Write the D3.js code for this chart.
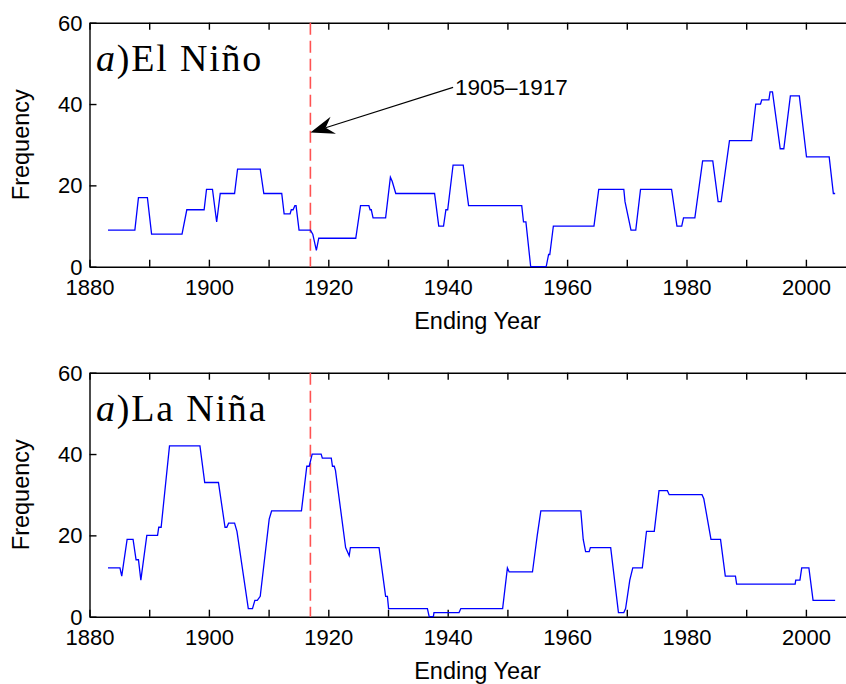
<!DOCTYPE html>
<html>
<head>
<meta charset="utf-8">
<script src="https://cdnjs.cloudflare.com/ajax/libs/d3/7.8.5/d3.min.js"></script>
<style>
   body { margin: 0; background: #fff; }
   svg { display: block; }
   .tick text { font-family: "Liberation Sans", Arial, sans-serif; font-size: 22px; fill: #000; }
   .axis path, .axis line { stroke: #000; stroke-width: 1.4px; }
</style>
</head>
<body>
<svg id="canvas"></svg>
<script>
// El Nino frequency (ending year, count)
const ninoYears = [1883.1, 1887.6, 1888.2, 1889.7, 1890.4, 1895.5, 1896.3, 1899.2, 1899.6, 1900.6,
   1901.3, 1901.9, 1904.3, 1904.8, 1908.6, 1909.2, 1912.2, 1912.6, 1913.6, 1913.8,
   1914.1, 1914.4, 1914.6, 1915.1, 1917.0, 1917.4, 1918.0, 1918.4, 1924.6, 1925.4,
   1926.8, 1927.0, 1927.2, 1927.5, 1929.6, 1930.4, 1930.7, 1931.3, 1937.8, 1938.5,
   1939.3, 1939.7, 1940.0, 1940.9, 1942.6, 1943.5, 1952.4, 1952.7, 1953.1, 1953.9,
   1956.5, 1956.9, 1957.1, 1957.7, 1964.5, 1965.3, 1969.5, 1969.7, 1970.7, 1971.5,
   1972.3, 1977.5, 1978.4, 1979.2, 1979.5, 1981.4, 1982.7, 1984.4, 1985.3, 1985.8,
   1987.2, 1990.9, 1991.6, 1992.4, 1992.6, 1993.8, 1994.0, 1994.4, 1995.7, 1996.3,
   1997.4, 1998.9, 2000.1, 2003.9, 2004.6, 2004.9];
const ninoFreq = [9, 9, 17, 17, 8, 8, 14, 14, 19, 19,
   11, 18, 18, 24, 24, 18, 18, 13, 13, 14,
   14, 15, 15, 9, 9, 8, 4, 7, 7, 15,
   15, 14, 14, 12, 12, 22, 21, 18, 18, 10,
   10, 14, 14, 25, 25, 15, 15, 11, 11, 0,
   0, 3, 3, 10, 10, 19, 19, 16, 9, 9,
   19, 19, 10, 10, 12, 12, 26, 26, 16, 16,
   31, 31, 40, 40, 41, 41, 43, 43, 29, 29,
   42, 42, 27, 27, 18, 18];

// La Nina frequency
const ninaYears = [1883.1, 1885.1, 1885.4, 1885.7, 1886.3, 1887.3, 1887.8, 1888.2, 1888.6, 1889.6,
   1891.4, 1891.6, 1892.0, 1893.4, 1898.5, 1899.3, 1901.6, 1902.7, 1903.0, 1903.3,
   1904.3, 1904.7, 1906.6, 1907.3, 1907.7, 1908.1, 1908.6, 1910.1, 1910.5, 1915.5,
   1916.4, 1916.8, 1917.3, 1918.8, 1919.0, 1920.5, 1920.7, 1921.0, 1921.2, 1922.9,
   1923.5, 1923.7, 1928.5, 1929.6, 1929.9, 1930.1, 1936.6, 1936.9, 1937.6, 1937.7,
   1941.9, 1942.2, 1949.2, 1950.0, 1950.3, 1954.2, 1955.0, 1955.6, 1962.3, 1962.7,
   1963.1, 1963.7, 1963.9, 1967.3, 1968.6, 1969.5, 1969.8, 1970.5, 1971.0, 1972.6,
   1973.3, 1974.6, 1975.4, 1976.8, 1977.1, 1982.6, 1982.9, 1984.1, 1985.7, 1986.5,
   1988.2, 1988.4, 1998.2, 1998.3, 1999.0, 1999.3, 2000.5, 2001.2, 2004.9];
const ninaFreq = [12, 12, 10, 13, 19, 19, 14, 14, 9, 20,
   20, 22, 22, 42, 42, 33, 33, 22, 22, 23,
   23, 21, 2, 2, 4, 4, 5, 24, 26, 26,
   37, 37, 40, 40, 39, 39, 37, 37, 36, 17,
   15, 17, 17, 5, 5, 2, 2, 0, 0, 1,
   1, 2, 2, 12, 11, 11, 20, 26, 26, 19,
   16, 16, 17, 17, 1, 1, 2, 9, 12, 12,
   21, 21, 31, 31, 30, 30, 29, 19, 19, 10,
   10, 8, 8, 9, 9, 12, 12, 4, 4];

// Axis ticks
const xTicks = [1880, 1890, 1900, 1910, 1920, 1930, 1940, 1950, 1960, 1970, 1980, 1990, 2000, 2010];
const xTickLabels = [1880, 1900, 1920, 1940, 1960, 1980, 2000];
const yTicks = [0, 20, 40, 60];

// Marked year and the arrow note (tail, tip in data units)
const markYear = 1917;
const noteText = "1905\u20131917";
const noteTail = [1940.9, 44.1];
const noteTip = [1917, 33];

const svgWidth = 846;
const svgHeight = 684;
const plotLeft = 89.5;
const plotRight = 865.6;   // right border falls outside the window
const plotHeight = 244;

const svg = d3.select("#canvas")
              .attr("width", svgWidth)
              .attr("height", svgHeight);

const xScale = d3.scaleLinear()
                 .domain([1880, 2010])
                 .range([plotLeft, plotRight]);
const yScale = d3.scaleLinear()
                 .domain([0, 60])
                 .range([plotHeight, 0]);

// One panel (years, values, top offset in px, title word)
const plotPanel = (years, values, top, title, withNote) => {
   const g = svg.append("g").attr("transform", `translate(0, ${top})`);

   // bottom axis, ticks pointing in
   g.append("g")
    .attr("class", "axis")
    .attr("transform", `translate(0, ${plotHeight})`)
    .call(d3.axisBottom(xScale).tickValues(xTicks).tickSizeInner(-7).tickSizeOuter(0).tickPadding(13)
            .tickFormat((d) => xTickLabels.includes(d) ? d : ""));
   // top axis, no labels
   g.append("g")
    .attr("class", "axis")
    .call(d3.axisTop(xScale).tickValues(xTicks).tickSizeInner(-7).tickSizeOuter(0).tickFormat(""));
   // left axis
   const yAxis = g.append("g")
                  .attr("class", "axis")
                  .attr("transform", `translate(${plotLeft}, 0)`)
                  .call(d3.axisLeft(yScale).tickValues(yTicks).tickSizeInner(-7).tickSizeOuter(0).tickPadding(7));
   yAxis.selectAll(".tick text").attr("dy", "0.34em");

   // dashed red marker
   g.append("line")
    .attr("x1", xScale(markYear)).attr("x2", xScale(markYear))
    .attr("y1", 0).attr("y2", plotHeight)
    .attr("stroke", "#ff5252")
    .attr("stroke-width", 1.6)
    .attr("stroke-dasharray", "12,6");

   // the series
   const line = d3.line()
                  .x((d) => xScale(d[0]))
                  .y((d) => yScale(d[1]));
   g.append("path")
    .datum(years.map((yr, i) => [yr, values[i]]))
    .attr("d", line)
    .attr("fill", "none")
    .attr("stroke", "#0000ff")
    .attr("stroke-width", 1.3);

   // panel title, LaTeX look
   const t = g.append("text")
              .attr("x", 96)
              .attr("y", 48)
              .style("font-family", "'Liberation Serif', 'Times New Roman', serif")
              .style("font-size", "38px")
              .style("letter-spacing", "1.8px");
   t.append("tspan").style("font-style", "italic").text("a");
   t.append("tspan").text(")" + title);

   // axis labels
   g.append("text")
    .attr("x", (plotLeft + plotRight) / 2)
    .attr("y", plotHeight + 62)
    .attr("text-anchor", "middle")
    .style("font-family", "'Liberation Sans', Arial, sans-serif")
    .style("font-size", "23.5px")
    .text("Ending Year");
   g.append("text")
    .attr("transform", `translate(29, ${plotHeight / 2}) rotate(-90)`)
    .attr("text-anchor", "middle")
    .style("font-family", "'Liberation Sans', Arial, sans-serif")
    .style("font-size", "23.5px")
    .text("Frequency");

   if (withNote) {
      const tx = xScale(noteTail[0]), ty = yScale(noteTail[1]);
      const px = xScale(noteTip[0]), py = yScale(noteTip[1]);
      const len = Math.hypot(tx - px, ty - py);
      const ux = (tx - px) / len, uy = (ty - py) / len;   // unit vector tip -> tail
      const headLen = 24, headHalf = 9, notch = 16;
      g.append("line")
       .attr("x1", tx).attr("y1", ty)
       .attr("x2", px + ux * notch).attr("y2", py + uy * notch)
       .attr("stroke", "#000").attr("stroke-width", 1.1);
      const head = [
         [px, py],
         [px + ux * headLen - uy * headHalf, py + uy * headLen + ux * headHalf],
         [px + ux * notch, py + uy * notch],
         [px + ux * headLen + uy * headHalf, py + uy * headLen - ux * headHalf]
      ];
      g.append("path")
       .attr("d", "M" + head.map((p) => p.join(",")).join("L") + "Z")
       .attr("fill", "#000");
      g.append("text")
       .attr("x", tx + 2)
       .attr("y", yScale(42.2))
       .style("font-family", "'Liberation Sans', Arial, sans-serif")
       .style("font-size", "22.5px")
       .text(noteText);
   }
};

plotPanel(ninoYears, ninoFreq, 22.7, "El Ni\u00f1o", true);
plotPanel(ninaYears, ninaFreq, 372.7, "La Ni\u00f1a", false);
</script>
</body>
</html>
